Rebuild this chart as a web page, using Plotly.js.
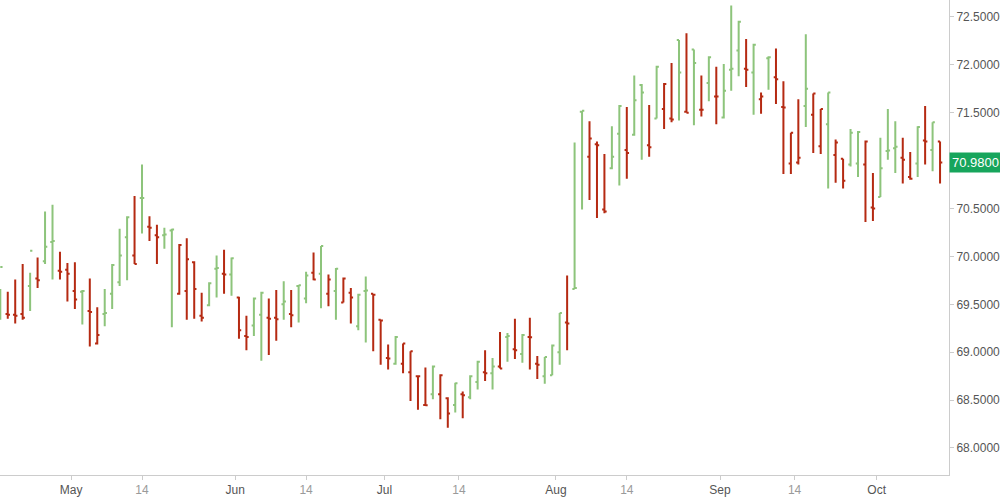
<!DOCTYPE html>
<html>
<head>
<meta charset="utf-8">
<script src="https://cdn.plot.ly/plotly-3.0.1.min.js"></script>
<style>
html,body{margin:0;padding:0;background:#fff;}
#chart{width:1000px;height:503px;}
</style>
</head>
<body>
<div id="chart"></div>
<script>
// Trading days (weekdays, 27 May holiday absent)
const dates = [
 '2019-04-17','2019-04-18','2019-04-19','2019-04-22','2019-04-23','2019-04-24','2019-04-25','2019-04-26','2019-04-29','2019-04-30',
 '2019-05-01','2019-05-02','2019-05-03','2019-05-06','2019-05-07','2019-05-08','2019-05-09','2019-05-10','2019-05-13','2019-05-14',
 '2019-05-15','2019-05-16','2019-05-17','2019-05-20','2019-05-21','2019-05-22','2019-05-23','2019-05-24','2019-05-28','2019-05-29',
 '2019-05-30','2019-05-31','2019-06-03','2019-06-04','2019-06-05','2019-06-06','2019-06-07','2019-06-10','2019-06-11','2019-06-12',
 '2019-06-13','2019-06-14','2019-06-17','2019-06-18','2019-06-19','2019-06-20','2019-06-21','2019-06-24','2019-06-25','2019-06-26',
 '2019-06-27','2019-06-28','2019-07-01','2019-07-02','2019-07-03','2019-07-04','2019-07-05','2019-07-08','2019-07-09','2019-07-10',
 '2019-07-11','2019-07-12','2019-07-15','2019-07-16','2019-07-17','2019-07-18','2019-07-19','2019-07-22','2019-07-23','2019-07-24',
 '2019-07-25','2019-07-26','2019-07-29','2019-07-30','2019-07-31','2019-08-01','2019-08-02','2019-08-05','2019-08-06','2019-08-07',
 '2019-08-08','2019-08-09','2019-08-12','2019-08-13','2019-08-14','2019-08-15','2019-08-16','2019-08-19','2019-08-20','2019-08-21',
 '2019-08-22','2019-08-23','2019-08-26','2019-08-27','2019-08-28','2019-08-29','2019-08-30','2019-09-02','2019-09-03','2019-09-04',
 '2019-09-05','2019-09-06','2019-09-09','2019-09-10','2019-09-11','2019-09-12','2019-09-13','2019-09-16','2019-09-17','2019-09-18',
 '2019-09-19','2019-09-20','2019-09-23','2019-09-24','2019-09-25','2019-09-26','2019-09-27','2019-09-30','2019-10-01','2019-10-02',
 '2019-10-03','2019-10-04','2019-10-07','2019-10-08','2019-10-09','2019-10-10','2019-10-11'
];

const open = [
 69.40,69.40,69.39,69.40,69.69,69.77,69.95,70.15,69.85,69.86,
 69.64,69.63,69.43,69.09,69.40,69.61,69.73,70.20,70.01,70.61,
 70.31,70.22,70.22,70.27,69.61,69.64,69.94,69.38,69.49,69.87,
 69.82,69.81,69.57,69.17,69.28,69.39,69.36,69.36,69.50,69.40,
 69.69,69.56,69.83,69.82,69.61,69.64,69.52,69.62,69.27,69.64,
 69.61,69.34,68.94,68.88,68.88,68.79,68.75,68.45,68.56,68.56,
 68.52,68.45,68.56,68.53,68.69,68.79,68.78,68.85,69.16,69.03,
 68.98,69.16,68.88,68.75,68.76,69.00,69.31,69.66,71.51,71.04,
 71.17,70.49,70.92,71.28,71.11,71.27,71.79,71.16,71.44,71.54,
 71.44,72.26,71.51,72.16,71.53,71.81,71.67,71.45,71.95,72.15,
 71.96,71.92,71.64,72.07,71.87,71.56,70.97,70.98,71.57,71.48,
 71.15,71.38,71.06,71.02,70.96,70.97,70.96,70.51,70.62,71.10,
 71.13,71.03,70.83,70.97,71.21,71.11,71.20
];
const high = [
 69.66,69.63,69.76,69.92,69.83,69.99,70.47,70.54,70.05,69.93,
 69.94,69.65,69.77,69.47,69.66,69.92,70.29,70.42,70.63,70.96,
 70.42,70.33,70.30,70.29,70.13,70.19,69.95,69.62,69.73,70.01,
 70.07,69.99,69.58,69.38,69.57,69.63,69.56,69.65,69.74,69.65,
 69.70,69.84,70.04,70.11,69.81,69.88,69.78,69.67,69.61,69.79,
 69.61,69.34,69.08,69.17,69.09,69.01,68.76,68.84,68.86,68.77,
 68.53,68.68,68.59,68.76,68.91,69.02,68.94,69.21,69.20,69.35,
 69.19,69.36,68.96,68.95,69.08,69.41,69.80,71.19,71.52,71.41,
 71.20,71.07,71.36,71.58,71.56,71.89,71.80,71.58,71.99,71.81,
 72.02,72.26,72.33,72.16,71.89,72.09,71.98,72.01,72.62,72.46,
 72.27,72.22,71.71,72.09,72.17,71.83,71.29,71.64,72.32,71.70,
 71.54,71.71,71.22,71.02,71.33,71.31,71.21,70.87,71.24,71.54,
 71.41,71.24,71.09,71.36,71.57,71.40,71.20
];
const low = [
 69.34,69.35,69.30,69.34,69.43,69.67,69.92,69.76,69.76,69.53,
 69.45,69.29,69.06,69.08,69.27,69.45,69.69,69.75,69.92,70.24,
 70.16,69.92,70.08,69.26,69.60,69.34,69.35,69.32,69.48,69.57,
 69.61,69.59,69.14,69.02,69.17,68.91,68.97,69.12,69.34,69.26,
 69.31,69.51,69.75,69.46,69.48,69.34,69.52,69.30,69.23,69.10,
 69.01,68.87,68.82,68.87,68.78,68.49,68.40,68.44,68.51,68.30,
 68.21,68.37,68.31,68.51,68.61,68.70,68.61,68.83,68.90,68.93,
 68.89,68.82,68.72,68.67,68.76,68.87,69.02,69.66,70.49,70.59,
 70.40,70.45,70.91,70.74,70.81,71.26,71.01,71.04,71.44,71.33,
 71.40,71.42,71.50,71.37,71.46,71.62,71.38,71.44,71.73,71.88,
 71.77,71.48,71.49,71.74,71.59,70.86,70.86,70.96,71.35,71.08,
 71.07,70.71,70.77,70.71,70.94,70.83,70.36,70.37,70.62,71.01,
 70.87,70.76,70.80,70.83,70.96,70.89,70.76
];
const close = [
 69.89,69.39,69.38,69.36,70.06,69.75,70.10,70.16,69.84,69.82,
 69.55,69.64,69.42,69.18,69.41,69.91,70.01,70.41,69.92,70.61,
 70.30,70.20,70.23,70.28,70.12,69.97,69.66,69.36,69.72,69.88,
 69.81,69.98,69.23,69.16,69.56,69.62,69.35,69.345,69.53,69.385,
 69.70,69.80,69.76,70.11,69.76,69.87,69.77,69.57,69.60,69.645,
 69.60,69.33,68.935,69.16,69.09,69.01,68.75,68.445,68.85,68.76,
 68.36,68.675,68.55,68.75,68.90,68.78,68.85,68.83,69.17,69.02,
 69.18,69.155,68.87,68.95,69.07,69.41,69.30,69.67,71.52,71.23,
 71.16,70.47,71.04,71.57,71.08,71.63,71.71,71.14,71.98,71.80,
 71.43,71.92,71.50,72.02,71.53,72.08,71.67,71.73,71.96,72.45,
 71.95,72.21,71.67,72.08,71.85,71.555,71.29,71.03,71.75,71.70,
 71.54,71.71,71.19,70.79,71.29,71.30,71.20,70.50,70.92,71.105,
 71.145,71.01,70.81,71.35,71.20,71.40,70.98
];

const tickDates = ['2019-05-01','2019-05-14','2019-06-01','2019-06-14','2019-07-01','2019-07-14','2019-08-01','2019-08-14','2019-09-01','2019-09-14','2019-10-01'];
const tickText  = ['May','14','Jun','14','Jul','14','Aug','14','Sep','14','Oct'];
const priceTicks = [68.0, 68.5, 69.0, 69.5, 70.0, 70.5, 71.0, 71.5, 72.0, 72.5];

const UP = '#8dc47b';
const DOWN = '#b52a12';

// bar colour follows the change from the previous close
const isUp = close.map((c, i) => i === 0 || c >= close[i - 1]);

function series(flag, color) {
  const idx = [];
  isUp.forEach((u, i) => { if (u === flag) idx.push(i); });
  return {
    type: 'ohlc',
    x: idx.map(i => dates[i]),
    open: idx.map(i => open[i]),
    high: idx.map(i => high[i]),
    low: idx.map(i => low[i]),
    close: idx.map(i => close[i]),
    increasing: {line: {color: color, width: 2}},
    decreasing: {line: {color: color, width: 2}},
    tickwidth: 0.3,
    hoverinfo: 'skip',
    showlegend: false
  };
}

// month labels sit on the boundary between months; other labels on their bar,
// or between bars when the date is not a trading day
const tickPos = tickDates.map(d => {
  const i = dates.findIndex(x => x >= d);
  const monthStart = d.slice(8) === '01';
  return (monthStart || dates[i] !== d) ? i - 0.5 : i;
});
const tickLabels = tickText.map(t => /^\d+$/.test(t) ? '<span style="color:#9a9a9a">' + t + '</span>' : t);

const last = close[close.length - 1];
// the last-price badge covers the price tick right next to it
const shownPriceTicks = priceTicks.filter(v => Math.abs(v - last) > 0.12);

const layout = {
  width: 1000,
  height: 503,
  margin: {l: 0, r: 51, t: 0, b: 28},
  paper_bgcolor: '#ffffff',
  plot_bgcolor: '#ffffff',
  font: {family: 'Liberation Sans, Arial, sans-serif', size: 12, color: '#555555'},
  showlegend: false,
  xaxis: {
    type: 'category',
    categoryorder: 'array',
    categoryarray: dates,
    range: [-0.04, dates.length - 1 + 1.2],
    tickmode: 'array',
    tickvals: tickPos,
    ticktext: tickLabels,
    showgrid: false,
    zeroline: false,
    showline: true,
    linecolor: '#cccccc',
    linewidth: 1,
    ticks: 'outside',
    ticklen: 4,
    tickcolor: '#cccccc',
    tickfont: {size: 12, color: '#555555'},
    rangeslider: {visible: false},
    fixedrange: true
  },
  yaxis: {
    side: 'right',
    range: [67.718, 72.677],
    tickmode: 'array',
    tickvals: shownPriceTicks,
    tickformat: '.4f',
    showgrid: false,
    zeroline: false,
    showline: true,
    linecolor: '#cccccc',
    linewidth: 1,
    ticks: 'outside',
    ticklen: 4,
    tickcolor: '#cccccc',
    tickfont: {size: 12, color: '#555555'},
    fixedrange: true
  },
  annotations: [{
    xref: 'paper', x: 1, xanchor: 'left',
    yref: 'y', y: last, yanchor: 'middle',
    text: last.toFixed(4),
    showarrow: false,
    bgcolor: '#17a55c',
    borderpad: 2,
    font: {color: '#ffffff', size: 13, family: 'Liberation Sans, Arial, sans-serif'}
  }]
};

Plotly.newPlot('chart', [series(true, UP), series(false, DOWN)], layout, {staticPlot: true, displayModeBar: false});
</script>
</body>
</html>
